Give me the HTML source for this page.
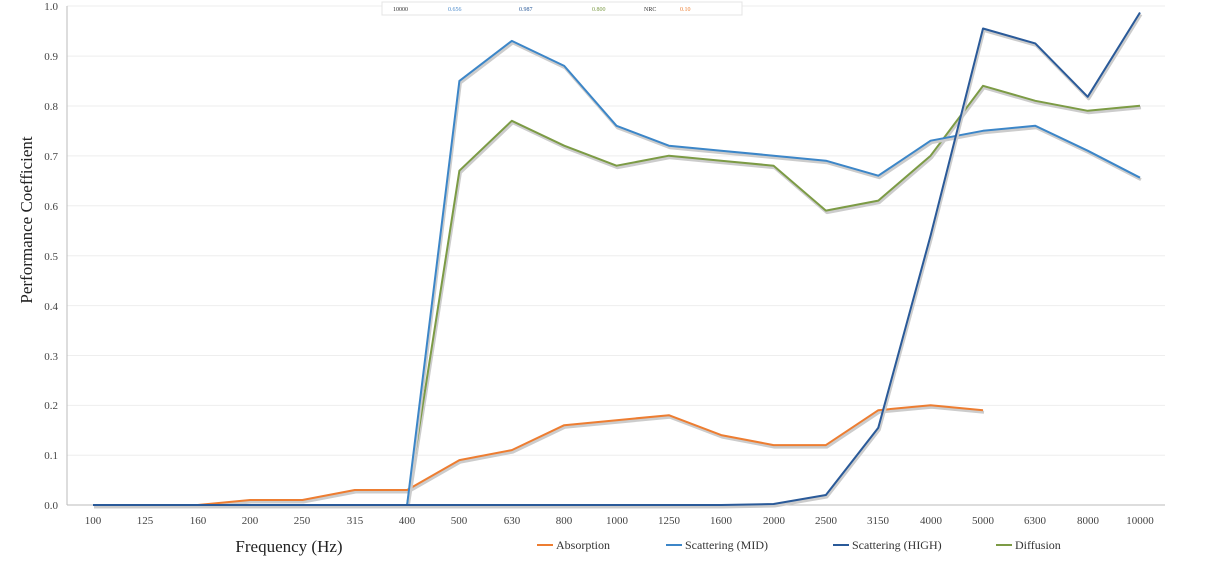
<!DOCTYPE html><html><head><meta charset="utf-8"><style>
body{margin:0;background:#fff;width:1212px;height:564px;overflow:hidden}
svg{font-family:"Liberation Serif",serif}
</style></head><body>
<svg id="s" width="1212" height="564" xmlns="http://www.w3.org/2000/svg">
<g stroke="#eee" stroke-width="1">
<line x1="67" x2="1165" y1="56.1" y2="56.1"/><line x1="67" x2="1165" y1="106" y2="106"/><line x1="67" x2="1165" y1="155.9" y2="155.9"/><line x1="67" x2="1165" y1="205.8" y2="205.8"/><line x1="67" x2="1165" y1="255.7" y2="255.7"/><line x1="67" x2="1165" y1="305.6" y2="305.6"/><line x1="67" x2="1165" y1="355.5" y2="355.5"/><line x1="67" x2="1165" y1="405.4" y2="405.4"/><line x1="67" x2="1165" y1="455.3" y2="455.3"/><line x1="67" x2="1165" y1="6" y2="6"/>
</g>
<line x1="67" x2="67" y1="6" y2="505" stroke="#bbb"/>
<line x1="67" x2="1165" y1="505" y2="505" stroke="#bbb"/>
<g font-size="11" fill="#444" text-anchor="end">
<text x="58" y="10">1.0</text><text x="58" y="60">0.9</text><text x="58" y="110">0.8</text><text x="58" y="160">0.7</text><text x="58" y="210">0.6</text><text x="58" y="260">0.5</text><text x="58" y="310">0.4</text><text x="58" y="360">0.3</text><text x="58" y="409">0.2</text><text x="58" y="459">0.1</text><text x="58" y="509">0.0</text>
</g>
<g font-size="11" fill="#444" text-anchor="middle">
<text x="93" y="524">100</text><text x="145" y="524">125</text><text x="198" y="524">160</text><text x="250" y="524">200</text><text x="302" y="524">250</text><text x="355" y="524">315</text><text x="407" y="524">400</text><text x="459" y="524">500</text><text x="512" y="524">630</text><text x="564" y="524">800</text><text x="617" y="524">1000</text><text x="669" y="524">1250</text><text x="721" y="524">1600</text><text x="774" y="524">2000</text><text x="826" y="524">2500</text><text x="878" y="524">3150</text><text x="931" y="524">4000</text><text x="983" y="524">5000</text><text x="1035" y="524">6300</text><text x="1088" y="524">8000</text><text x="1140" y="524">10000</text>
</g>
<text x="289" y="552" font-size="17" fill="#222" text-anchor="middle">Frequency (Hz)</text>
<text transform="translate(32,220) rotate(-90)" font-size="17" fill="#222" text-anchor="middle">Performance Coefficient</text>
<g font-size="12" fill="#333">
<line x1="537" x2="553" y1="545" y2="545" stroke="#ED7D31" stroke-width="2"/><text x="556" y="549">Absorption</text>
<line x1="666" x2="682" y1="545" y2="545" stroke="#3c86c8" stroke-width="2"/><text x="685" y="549">Scattering (MID)</text>
<line x1="833" x2="849" y1="545" y2="545" stroke="#2a5a99" stroke-width="2"/><text x="852" y="549">Scattering (HIGH)</text>
<line x1="996" x2="1012" y1="545" y2="545" stroke="#7c9b45" stroke-width="2"/><text x="1015" y="549">Diffusion</text>
</g>
<g font-size="6">
<rect x="382" y="2" width="360" height="13" fill="#fff" stroke="#e4e4e4"/>
<text x="393" y="11" fill="#333">10000</text><text x="448" y="11" fill="#4a8acb">0.656</text><text x="519" y="11" fill="#2a5a99">0.987</text><text x="592" y="11" fill="#7c9b45">0.800</text><text x="644" y="11" fill="#333">NRC</text><text x="680" y="11" fill="#ED7D31">0.10</text>
</g>
<g id="lines" fill="none" stroke-width="2" stroke-linejoin="round"></g>
</svg>
<script>
var d=[
["#ED7D31",[0,0,0,.01,.01,.03,.03,.09,.11,.16,.17,.18,.14,.12,.12,.19,.2,.19]],
["#7c9b45",[0,0,0,0,0,0,0,.67,.77,.72,.68,.70,.69,.68,.59,.61,.70,.84,.81,.79,.80]],
["#3c86c8",[0,0,0,0,0,0,0,.85,.93,.88,.76,.72,.71,.70,.69,.66,.73,.75,.76,.71,.656]],
["#2a5a99",[0,0,0,0,0,0,0,0,0,0,0,0,0,.002,.02,.155,.54,.955,.925,.818,.987]]];
var g=document.getElementById("lines"),ns="http://www.w3.org/2000/svg";
d.forEach(function(s){var p=s[1].map(function(v,i){return (93+52.35*i).toFixed(1)+","+(505-499*v).toFixed(1)}).join(" ");
var sh=document.createElementNS(ns,"polyline");sh.setAttribute("points",p);sh.setAttribute("stroke","#ccc");sh.setAttribute("stroke-width","3");sh.setAttribute("transform","translate(1,2)");g.appendChild(sh);
var l=document.createElementNS(ns,"polyline");l.setAttribute("points",p);l.setAttribute("stroke",s[0]);g.appendChild(l);});
</script>
</body></html>
